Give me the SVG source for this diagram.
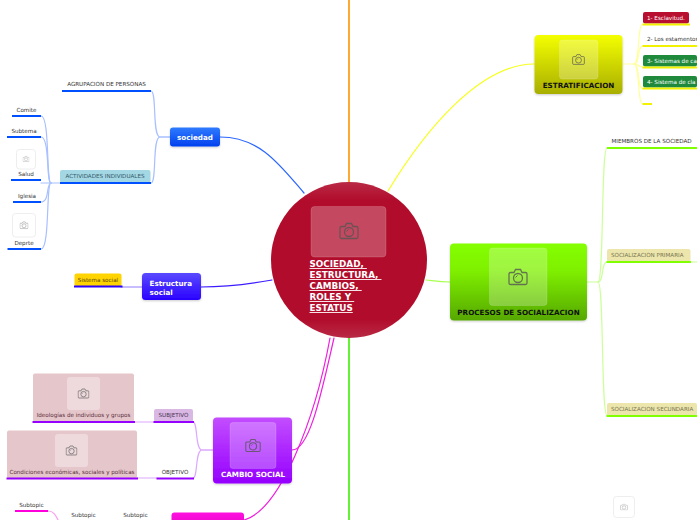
<svg xmlns="http://www.w3.org/2000/svg" width="697" height="520" viewBox="0 0 697 520" fill="#333">
<style>
text{font-family:"DejaVu Sans",sans-serif;white-space:pre}
.c{fill:none;stroke-linecap:round}
.s{font-size:5.6px}
.m{font-size:7.2px;font-weight:bold}
.ph{fill:#fff;fill-opacity:.25;stroke:#fff;stroke-opacity:.15}
.ic{fill:none;stroke:#555;stroke-opacity:.8}
</style>
<defs>
<linearGradient id="gB" x1="0" y1="0" x2="0" y2="1"><stop offset="0" stop-color="#2f7bff"/><stop offset="1" stop-color="#0040ee"/></linearGradient>
<linearGradient id="gI" x1="0" y1="0" x2="0" y2="1"><stop offset="0" stop-color="#5a4bff"/><stop offset="1" stop-color="#2a00ff"/></linearGradient>
<linearGradient id="gY" x1="0" y1="0" x2="0" y2="1"><stop offset="0" stop-color="#f4ff00"/><stop offset="1" stop-color="#a8ae00"/></linearGradient>
<linearGradient id="gG" x1="0" y1="0" x2="0" y2="1"><stop offset="0" stop-color="#84ff00"/><stop offset=".35" stop-color="#7ff000"/><stop offset="1" stop-color="#56a800"/></linearGradient>
<linearGradient id="gP" x1="0" y1="0" x2="0" y2="1"><stop offset="0" stop-color="#c34dff"/><stop offset="1" stop-color="#9500ff"/></linearGradient>
<linearGradient id="gM" x1="0" y1="0" x2="0" y2="1"><stop offset="0" stop-color="#ff10e0"/><stop offset="1" stop-color="#e000c0"/></linearGradient>
<linearGradient id="gR" x1="0" y1="0" x2="0" y2="1"><stop offset="0" stop-color="#b92a45"/><stop offset=".12" stop-color="#b10c2b"/><stop offset=".88" stop-color="#b10c2b"/><stop offset="1" stop-color="#b92a45"/></linearGradient>
<filter id="sh" x="-10%" y="-10%" width="120%" height="125%"><feDropShadow dx="0" dy="1" stdDeviation="1" flood-color="#000" flood-opacity=".2"/></filter>
<symbol id="cam" viewBox="0 0 20 18"><path class="ic" stroke-width="1.3" d="M2.500 4.500h3.500l1.500-3h5l1.500 3h3.500q1.500 0 1.500 1.500v9q0 1.500-1.500 1.500h-15q-1.500 0-1.500-1.500v-9q0-1.500 1.500-1.500z"/><circle class="ic" stroke-width="1.300" cx="10" cy="10" r="4.500"/><path class="ic" stroke-width="1" d="M7.500 9.500l2-2"/></symbol>
</defs>

<g id="connectors">
<g class="c" stroke-width="1.600">
<path stroke="#ff9400" d="M349 0V182"/>
<path stroke="#3df000" d="M349 338V520"/>
</g>
<g class="c" stroke-width="1.200">
<path stroke="#2b66ff" d="M220 137C260 137 280 165 304 193"/>
<path stroke="#3a1cff" d="M201 287C225 287 250 284 272 280"/>
<path stroke="#f6ff1a" d="M534 64C480 64 425 130 388 191"/>
<path stroke="#a8ff50" d="M450 282C440 282 435 281 426 280"/>
<path stroke="#f01de0" d="M292 450C310 450 322 390 334 338"/>
<path stroke="#f01de0" d="M244 520C280 510 315 420 330 338"/>
</g>
<g class="c" stroke="#a8c0ff" stroke-width="1.200">
<path d="M170 137H160C152 137 157 91 151 91"/>
<path d="M170 137H160C152 137 157 183 151 183"/>
<path d="M60 183H51"/>
<path d="M51 183C46 183 50 116 41 116"/>
<path d="M51 183C46 183 50 137 41 137"/>
<path d="M51 183H41"/>
<path d="M51 183C46 183 50 202 41 202"/>
<path d="M51 183C46 183 50 249 41 249"/>
</g>
<path class="c" stroke="#8f7dff" d="M142 287H121"/>
<g class="c" stroke="#ffffa0" stroke-width="1.200">
<path d="M623 64H634"/>
<path d="M634 64C640 64 637 24 643 24"/>
<path d="M634 64C640 64 637 46 643 46"/>
<path d="M634 64C640 64 637 67 643 67"/>
<path d="M634 64C640 64 637 89 643 89"/>
<path d="M634 64C640 64 637 104 643 104"/>
</g>
<g class="c" stroke="#ccff99" stroke-width="1.200">
<path d="M587 282H598"/>
<path d="M598 282C604 282 601 148 607 148"/>
<path d="M598 282C604 282 601 262 607 262"/>
<path d="M598 282C604 282 601 415 607 415"/>
<path d="M691 262H697"/>
</g>
<g class="c" stroke="#dca8ff" stroke-width="1.200">
<path d="M213 450H202C195 450 198 422 193 422"/>
<path d="M213 450H202C195 450 198 478 193 478"/>
<path d="M134 422H154"/>
<path d="M137 478H157"/>
</g>
<path class="c" stroke="#ff9cf0" stroke-width="1.200" d="M48 511C54 511 56 516 58 520"/>
</g>

<g id="center">
<circle cx="349" cy="260" r="78" fill="url(#gR)"/>
<rect class="ph" x="311" y="206.500" width="75" height="50.500" rx="3.500"/>
<use href="#cam" x="339" y="222" width="20" height="18"/>
<g font-size="8.800" font-weight="bold" fill="#fff" text-decoration="underline">
<text x="309.500" y="267">SOCIEDAD, </text>
<text x="309.500" y="278">ESTRUCTURA, </text>
<text x="309.500" y="289">CAMBIOS, </text>
<text x="309.500" y="300">ROLES Y </text>
<text x="309.500" y="311">ESTATUS</text>
</g>
</g>

<g id="sociedad">
<rect x="170" y="127.500" width="50" height="19" rx="3" fill="url(#gB)" filter="url(#sh)"/>
<text x="195" y="140" class="m" fill="#fff" text-anchor="middle">sociedad</text>
</g>
<g id="agrupacion"><text x="106.500" y="86" class="s" text-anchor="middle">AGRUPACION DE PERSONAS</text><path d="M62 91H151" stroke="#0050ff" stroke-width="2"/></g>
<g id="actividades"><rect x="60" y="170" width="90.500" height="13" rx="2" fill="#a3d7e3"/><text x="105" y="178" class="s" fill="#36596b" text-anchor="middle">ACTIVIDADES INDIVIDUALES</text><path d="M60 183H151" stroke="#0050ff" stroke-width="2"/></g>
<g id="comite"><text x="26.500" y="112" class="s" text-anchor="middle">Comite</text><path d="M12 116H41" stroke="#0050ff" stroke-width="2"/></g>
<g id="subtema"><text x="24" y="133" class="s" text-anchor="middle">Subtema</text><path d="M7 137H41" stroke="#0050ff" stroke-width="2"/></g>
<g id="salud"><rect x="16.500" y="149.500" width="19" height="19.500" rx="3" fill="#fff" stroke="#eee"/><use href="#cam" x="22.500" y="155.500" width="7" height="7" opacity=".6"/><text x="26" y="176" class="s" text-anchor="middle">Salud</text><path d="M11 180H41" stroke="#0050ff" stroke-width="2"/></g>
<g id="iglesia"><text x="27" y="198" class="s" text-anchor="middle">Iglesia</text><path d="M13 202H41" stroke="#0050ff" stroke-width="2"/></g>
<g id="deporte"><rect x="12.500" y="213.500" width="23" height="23.500" rx="3" fill="#fff" stroke="#eee"/><use href="#cam" x="19.500" y="221" width="9" height="8.500" opacity=".7"/><text x="24" y="245" class="s" text-anchor="middle">Deprte</text><path d="M7.500 249H41" stroke="#0050ff" stroke-width="2"/></g>

<g id="estructura">
<rect x="142" y="273" width="59" height="27" rx="3.500" fill="url(#gI)" filter="url(#sh)"/>
<text x="149.500" y="285.500" class="m" fill="#fff">Estructura</text>
<text x="149.500" y="294.500" class="m" fill="#fff">social</text>
</g>
<g id="sistema"><rect x="74.500" y="273.500" width="47" height="13" rx="2" fill="#ffd400"/><text x="98" y="282" class="s" text-anchor="middle" fill="#5c4800">Sistema social</text><path d="M74 286.500H122.500" stroke="#2a00ff" stroke-width="2"/></g>

<g id="estratificacion">
<rect x="534.500" y="35" width="88" height="59" rx="4" fill="url(#gY)" filter="url(#sh)"/>
<rect class="ph" x="559.500" y="40" width="38.500" height="39" rx="3"/>
<use href="#cam" x="572" y="53.500" width="13" height="12"/>
<text x="578.500" y="88" class="m" fill="#111" text-anchor="middle">ESTRATIFICACION</text>
</g>
<g id="t1"><rect x="643" y="12" width="46" height="11.500" rx="2" fill="#b80f30"/><text x="647" y="19.800" class="s" fill="#fff">1- Esclavitud.</text><path d="M642.500 24.500H690" stroke="#f2f200" stroke-width="2"/></g>
<g id="t2"><text x="647" y="41" class="s">2- Los estamentos</text><path d="M642.500 46H697" stroke="#f2f200" stroke-width="2"/></g>
<g id="t3"><rect x="643" y="55" width="54" height="11.500" rx="2" fill="#1f8a3c"/><text x="647" y="63" class="s" fill="#fff">3- Sistemas de ca</text><path d="M642.500 67.500H697" stroke="#f2f200" stroke-width="2"/></g>
<g id="t4"><rect x="643" y="76" width="54" height="11.500" rx="2" fill="#1f8a3c"/><text x="647" y="84" class="s" fill="#fff">4- Sistema de cla</text><path d="M642.500 88.500H697" stroke="#f2f200" stroke-width="2"/></g>
<g id="t5"><path d="M642.500 104H652" stroke="#f2f200" stroke-width="2"/></g>

<g id="procesos">
<rect x="450" y="243.500" width="137" height="77" rx="4" fill="url(#gG)" filter="url(#sh)"/>
<rect class="ph" x="489.500" y="248" width="57.500" height="57.500" rx="3"/>
<use href="#cam" x="508" y="268" width="20" height="18"/>
<text x="518.500" y="314.500" class="m" fill="#111" text-anchor="middle">PROCESOS DE SOCIALIZACION</text>
</g>
<g id="miembros"><text x="651.500" y="143" class="s" text-anchor="middle">MIEMBROS DE LA SOCIEDAD</text><path d="M607 148H697" stroke="#7fff00" stroke-width="2"/></g>
<g id="primaria"><rect x="607" y="249" width="83.500" height="13" rx="2" fill="#ece6ad"/><text x="611" y="257" class="s" fill="#7a7550">SOCIALIZACION PRIMARIA</text><path d="M606.500 262H691" stroke="#7fff00" stroke-width="2"/></g>
<g id="secundaria"><rect x="607" y="403" width="90" height="13" rx="2" fill="#ece6ad"/><text x="611" y="411" class="s" fill="#7a7550">SOCIALIZACION SECUNDARIA</text><path d="M606.500 416H697" stroke="#7fff00" stroke-width="2"/></g>
<g id="floating"><rect x="613.500" y="496.500" width="21" height="21" rx="3" fill="#fff" stroke="#eee"/><use href="#cam" x="620" y="503.500" width="8" height="7" opacity=".6"/></g>

<g id="cambio">
<rect x="213" y="417.500" width="79" height="66" rx="4" fill="url(#gP)" filter="url(#sh)"/>
<rect class="ph" x="230" y="422.500" width="46" height="46" rx="3"/>
<use href="#cam" x="245" y="438" width="16" height="15"/>
<text x="253" y="477" class="m" fill="#fff" text-anchor="middle">CAMBIO SOCIAL</text>
</g>
<g id="subjetivo"><rect x="154" y="409" width="39" height="13" rx="2" fill="#d9b8e3"/><text x="173.500" y="417" class="s" fill="#4a3457" text-anchor="middle">SUBJETIVO</text><path d="M153.500 422H194" stroke="#9500ff" stroke-width="2"/></g>
<g id="objetivo"><text x="175" y="474" class="s" text-anchor="middle">OBJETIVO</text><path d="M156.500 478.500H194" stroke="#9500ff" stroke-width="2"/></g>
<g id="ideologias"><rect x="33" y="373.500" width="101" height="48.500" rx="2" fill="#e5c6ca"/><rect x="67" y="377" width="33" height="33" rx="3" fill="#fff" fill-opacity=".35"/><use href="#cam" x="77.500" y="388" width="12" height="11"/><text x="83.500" y="417" class="s" fill="#5a2d3c" text-anchor="middle">Ideologías de individuos y grupos</text><path d="M32.500 422H135" stroke="#9500ff" stroke-width="2"/></g>
<g id="condiciones"><rect x="7" y="430.500" width="130" height="48" rx="2" fill="#e5c6ca"/><rect x="55" y="434" width="33" height="33" rx="3" fill="#fff" fill-opacity=".35"/><use href="#cam" x="65.500" y="445" width="12" height="11"/><text x="72" y="474" class="s" fill="#5a2d3c" text-anchor="middle">Condiciones económicas, sociales y políticas</text><path d="M6.500 478.500H138" stroke="#9500ff" stroke-width="2"/></g>

<g id="magenta"><rect x="171.500" y="512.500" width="72.500" height="20" rx="3" fill="url(#gM)"/></g>
<g id="sub1"><text x="31.500" y="507" class="s" text-anchor="middle">Subtopic</text><path d="M15 511H48" stroke="#ff00dd" stroke-width="2"/></g>
<g id="sub2"><text x="83.500" y="517" class="s" text-anchor="middle">Subtopic</text></g>
<g id="sub3"><text x="135.500" y="517" class="s" text-anchor="middle">Subtopic</text></g>
</svg>
